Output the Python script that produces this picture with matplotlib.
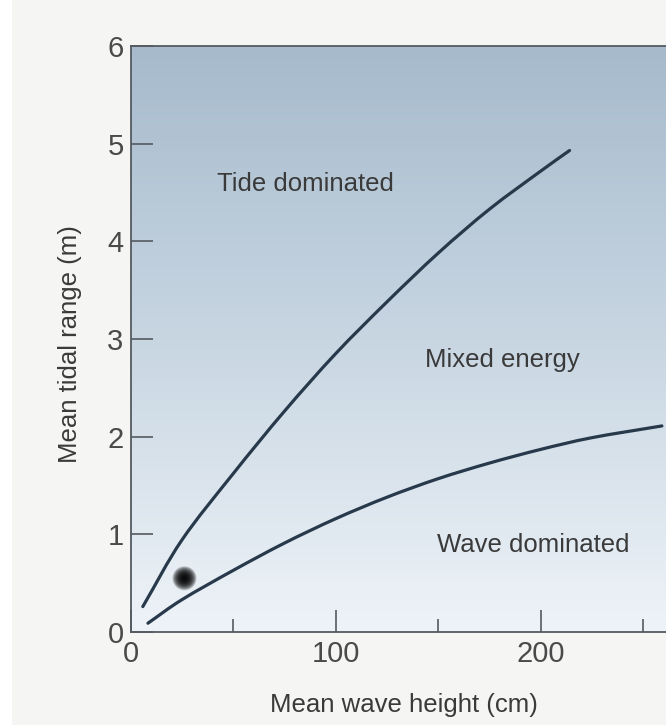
import matplotlib
matplotlib.use("Agg")
import matplotlib.pyplot as plt
import numpy as np
from matplotlib.colors import LinearSegmentedColormap
from matplotlib.patches import Rectangle, PathPatch
from matplotlib.path import Path

# ---- data ----
tide_x = [6, 25, 50, 75, 100, 125, 150, 175, 200, 214]
tide_y = [0.26, 0.94, 1.62, 2.26, 2.85, 3.38, 3.88, 4.33, 4.72, 4.93]

wave_x = [8.5, 25, 50, 75, 100, 125, 150, 175, 200, 225, 259]
wave_y = [0.09, 0.33, 0.63, 0.91, 1.16, 1.38, 1.57, 1.73, 1.87, 1.99, 2.11]

point_x = [26.3]
point_y = [0.55]

region_labels = ["Tide dominated", "Mixed energy", "Wave dominated"]
region_x = [42, 143.6, 149.4]
region_y = [4.59, 2.78, 0.89]

x_major = [0, 100, 200]
x_minor = [50, 150, 250]
y_major = [0, 1, 2, 3, 4, 5, 6]

plt.rcParams['font.family'] = ['Liberation Sans', 'DejaVu Sans']
text_col = '#3a3a3a'
tick_col = '#4a4a4a'
line_col = '#27394a'
spine_col = '#555a60'


def smooth_path(xs, ys):
    """Catmull-Rom spline through the read points, expressed as cubic Beziers."""
    p = np.column_stack([xs, ys]).astype(float)
    n = len(p)
    ext = np.vstack([2 * p[0] - p[1], p, 2 * p[-1] - p[-2]])
    verts = [p[0]]
    codes = [Path.MOVETO]
    for i in range(1, n):
        p0, p1, p2, p3 = ext[i - 1], ext[i], ext[i + 1], ext[i + 2]
        c1 = p1 + (p2 - p0) / 6.0
        c2 = p2 - (p3 - p1) / 6.0
        verts += [c1, c2, p2]
        codes += [Path.CURVE4] * 3
    return Path(verts, codes)


fig = plt.figure(figsize=(6.66, 7.25), dpi=100, facecolor='#f5f5f4')
fig.patches.append(Rectangle((0, 0), 12 / 666, 1, transform=fig.transFigure,
                             facecolor='white', edgecolor='none', zorder=-10))

ax = fig.add_axes([130.5 / 666, 1 - 632 / 725, 1 - 130.5 / 666, (632 - 46) / 725])
ax.set_xlim(0, 261)
ax.set_ylim(0, 6)

# gradient background
cmap = LinearSegmentedColormap.from_list('bg', ['#eef3f8', '#c8d6e2', '#a6bacc'])
grad = np.linspace(0, 1, 256).reshape(-1, 1)
ax.imshow(grad, extent=[0, 261, 0, 6], origin='lower', aspect='auto',
          cmap=cmap, zorder=0)

for xs, ys in [(tide_x, tide_y), (wave_x, wave_y)]:
    ax.add_patch(PathPatch(smooth_path(xs, ys), facecolor='none', edgecolor=line_col,
                           lw=2.3, capstyle='round', zorder=3))

# blurred dot
for r in np.linspace(12, 2, 14):
    s = (2 * r * 0.72) ** 2
    ax.scatter(point_x, point_y, s=s, color='black', alpha=0.18,
               edgecolors='none', zorder=4)

for t, x, y in zip(region_labels, region_x, region_y):
    ax.text(x, y, t, fontsize=18.5, color=text_col, ha='left', va='center', zorder=5)

for side in ['left', 'bottom', 'top']:
    ax.spines[side].set_color(spine_col)
    ax.spines[side].set_linewidth(1.3)
ax.spines['right'].set_visible(False)

ax.set_xticks(x_major)
ax.set_xticks(x_minor, minor=True)
ax.set_yticks(y_major)
ax.tick_params(axis='both', which='major', direction='in', length=15.5, width=1.2,
               color=spine_col, labelsize=21, labelcolor=tick_col)
ax.tick_params(axis='x', which='major', pad=6)
ax.tick_params(axis='y', which='major', pad=5)
ax.tick_params(axis='x', which='minor', direction='in', length=9.5, width=1.2,
               color=spine_col)
ax.tick_params(axis='y', which='minor', length=0)

fig.text(403.6 / 666, 1 - 705 / 725, 'Mean wave height (cm)', fontsize=18.5,
         color=text_col, ha='center', va='center')
fig.text(70 / 666, 1 - 344 / 725, 'Mean tidal range (m)', fontsize=18.5,
         color=text_col, ha='center', va='center', rotation=90)

fig.savefig('out.png', dpi=100, facecolor=fig.get_facecolor())
